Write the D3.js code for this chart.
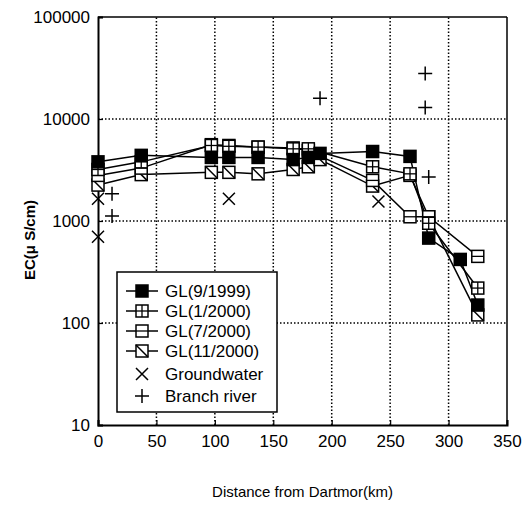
<!DOCTYPE html>
<html><head><meta charset="utf-8">
<script src="https://cdn.jsdelivr.net/npm/d3@7"></script>
<style>body{margin:0;background:#fff}svg{display:block}</style>
</head><body>
<script>
const km = [0, 37, 97, 112, 137, 167, 180, 190, 235, 267, 283, 310, 325];
const gl9_1999  = [3800, 4400, 4200, 4200, 4200, 4000, 4200, 4600, 4800, 4300, 680, 420, 150];
const gl1_2000  = [3200, 3800, 5500, 5400, 5300, 5100, 5100, null, 3400, 2900, 950, null, 220];
const gl7_2000km = [0, 37, 97, 112, 137, 167, 180, 235, 267, 283, 325];
const gl7_2000  = [2800, 3300, 5600, 5500, 5300, 5200, 4900, 2500, 1100, 1100, 450];
const gl11_2000km = [0, 37, 97, 112, 137, 167, 180, 190, 235, 267, 283, 325];
const gl11_2000 = [2250, 2850, 3000, 3000, 2900, 3200, 3400, 4000, 2200, 2800, 1100, 120];
const gwKm = [0, 0, 112, 240];
const gwVal = [700, 1650, 1650, 1550];
const brKm = [12, 12, 190, 280, 280, 283];
const brVal = [1850, 1120, 16000, 28000, 13000, 2700];
const xTicks = [0, 50, 100, 150, 200, 250, 300, 350];
const yTicks = [10, 100, 1000, 10000, 100000];
const legendLabels = ["GL(9/1999)", "GL(1/2000)", "GL(7/2000)", "GL(11/2000)", "Groundwater", "Branch river"];

const W = 531, H = 505;
const svg = d3.select("body").append("svg").attr("width", W).attr("height", H);
const font = "Liberation Sans, Arial, sans-serif";
const x = d3.scaleLinear().domain([0, 350]).range([98, 507]);
const y = d3.scaleLog().domain([10, 100000]).range([425, 17]);

// grid
const g = svg.append("g");
g.selectAll(".vg").data(xTicks.slice(1, -1)).enter().append("line")
  .attr("x1", d => x(d)).attr("x2", d => x(d)).attr("y1", y(10)).attr("y2", y(100000))
  .attr("stroke", "#000").attr("stroke-width", 1.5).attr("stroke-dasharray", "1.5,2");
g.selectAll(".hg").data(yTicks.slice(1, -1)).enter().append("line")
  .attr("x1", x(0)).attr("x2", x(350)).attr("y1", d => y(d)).attr("y2", d => y(d))
  .attr("stroke", "#000").attr("stroke-width", 1.5).attr("stroke-dasharray", "1.5,2");

// axes
const xAxis = d3.axisBottom(x).tickValues(xTicks).tickSize(-5).tickPadding(10).tickFormat(d3.format("d"));
const yAxis = d3.axisLeft(y).tickValues(yTicks).tickSize(-5).tickPadding(8).tickFormat(d3.format("d"));
const gx = svg.append("g").attr("transform", `translate(0,${y(10)})`).call(xAxis);
const gy = svg.append("g").attr("transform", `translate(${x(0)},0)`).call(yAxis);
[gx, gy].forEach(a => {
  a.select(".domain").attr("stroke-width", 2);
  a.selectAll("text").attr("font-family", font).attr("font-size", 17).attr("fill", "#000");
  a.selectAll("line").attr("stroke-width", 1.2);
});
// top/right frame
svg.append("line").attr("x1", x(0)).attr("x2", x(350)).attr("y1", y(100000)).attr("y2", y(100000)).attr("stroke", "#000").attr("stroke-width", 1.5);
svg.append("line").attr("x1", x(350)).attr("x2", x(350)).attr("y1", y(100000)).attr("y2", y(10)).attr("stroke", "#000").attr("stroke-width", 1.5);

// titles
svg.append("text").attr("x", (x(0) + x(350)) / 2).attr("y", 497).attr("text-anchor", "middle")
  .attr("font-family", font).attr("font-size", 15).text("Distance from Dartmor(km)");
svg.append("text").attr("transform", "translate(35,240) rotate(-90)").attr("text-anchor", "middle")
  .attr("font-family", font).attr("font-size", 15).attr("font-weight", "bold").text("EC(\u03bc S/cm)");

// markers
const S = 12;
function marker(sel, type) {
  const h = S / 2;
  sel.append("rect").attr("x", -h).attr("y", -h).attr("width", S).attr("height", S)
    .attr("fill", type === "filled" ? "#000" : "#fff").attr("stroke", "#000").attr("stroke-width", 1.5);
  if (type === "plus") {
    sel.append("line").attr("x1", -h).attr("x2", h).attr("y1", 0).attr("y2", 0).attr("stroke", "#000").attr("stroke-width", 1.3);
    sel.append("line").attr("x1", 0).attr("x2", 0).attr("y1", -h).attr("y2", h).attr("stroke", "#000").attr("stroke-width", 1.3);
  } else if (type === "open") {
    sel.append("line").attr("x1", -h).attr("x2", h).attr("y1", 0).attr("y2", 0).attr("stroke", "#000").attr("stroke-width", 1.3);
  } else if (type === "diag") {
    sel.append("line").attr("x1", -h).attr("x2", h).attr("y1", -h).attr("y2", h).attr("stroke", "#000").attr("stroke-width", 1.5);
  } else if (type === "x") {
    sel.select("rect").remove();
    sel.append("path").attr("d", "M-6,-6L6,6M-6,6L6,-6").attr("stroke", "#000").attr("stroke-width", 1.5).attr("fill", "none");
  } else if (type === "cross") {
    sel.select("rect").remove();
    sel.append("path").attr("d", "M-7,0L7,0M0,-7L0,7").attr("stroke", "#000").attr("stroke-width", 1.5).attr("fill", "none");
  }
}

const series = [
  {xs: km, vs: gl9_1999, type: "filled"},
  {xs: km, vs: gl1_2000, type: "plus"},
  {xs: gl7_2000km, vs: gl7_2000, type: "open"},
  {xs: gl11_2000km, vs: gl11_2000, type: "diag"}
];
const line = d3.line().x(d => x(d[0])).y(d => y(d[1]));
series.forEach(s => {
  s.pts = s.xs.map((k, i) => [k, s.vs[i]]).filter(d => d[1] != null);
  svg.append("path").datum(s.pts).attr("d", line).attr("fill", "none").attr("stroke", "#000").attr("stroke-width", 1.5);
});
series.slice().reverse().forEach(s => {
  svg.append("g").selectAll("g").data(s.pts).enter().append("g")
    .attr("transform", d => `translate(${x(d[0])},${y(d[1])})`).each(function () { marker(d3.select(this), s.type); });
});
svg.append("g").selectAll("g").data(gwKm.map((k, i) => [k, gwVal[i]])).enter().append("g")
  .attr("transform", d => `translate(${x(d[0])},${y(d[1])})`).each(function () { marker(d3.select(this), "x"); });
svg.append("g").selectAll("g").data(brKm.map((k, i) => [k, brVal[i]])).enter().append("g")
  .attr("transform", d => `translate(${x(d[0])},${y(d[1])})`).each(function () { marker(d3.select(this), "cross"); });

// legend
const lg = svg.append("g");
lg.append("rect").attr("x", 117).attr("y", 272).attr("width", 160).attr("height", 140)
  .attr("fill", "#fff").attr("stroke", "#000").attr("stroke-width", 1.5);
const types = ["filled", "plus", "open", "diag", "x", "cross"];
const ly = [291, 311, 331, 351, 374, 396];
legendLabels.forEach((t, i) => {
  const row = lg.append("g").attr("transform", `translate(0,${ly[i]})`);
  if (i < 4) row.append("line").attr("x1", 126).attr("x2", 158).attr("y1", 0).attr("y2", 0).attr("stroke", "#000").attr("stroke-width", 1.5);
  const m = row.append("g").attr("transform", "translate(142,0)");
  marker(m, types[i]);
  row.append("text").attr("x", 165).attr("y", 6).attr("font-family", font).attr("font-size", 17).text(t);
});
</script>
</body></html>
